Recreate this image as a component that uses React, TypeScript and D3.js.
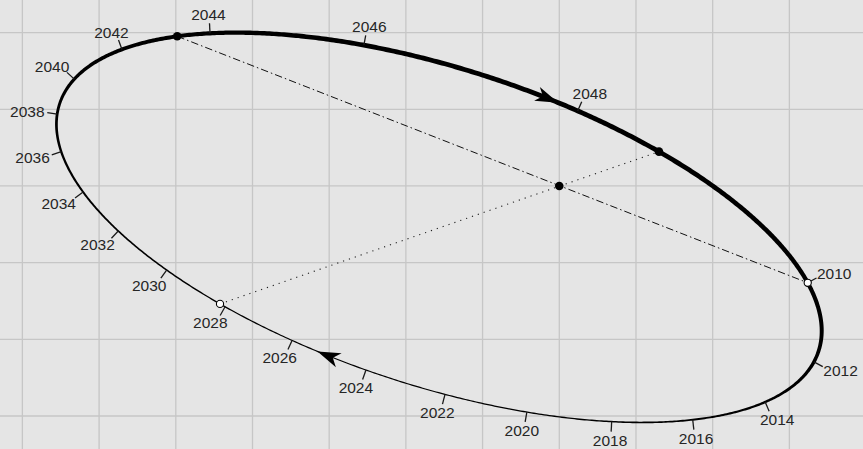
import React, { useMemo } from "react";
import * as d3 from "d3";

const WIDTH = 863;
const HEIGHT = 449;

// Grid lines (orbit-plane units, origin at the focus)
const gridXValues = [-7, -6, -5, -4, -3, -2, -1, 0, 1, 2, 3];
const gridYValues = [-3, -2, -1, 0, 1, 2];

// Orbit points, in the direction of motion, starting at 2010
const orbitLabels = [
  "2010", "", "2012", "2014", "2016", "2018", "2020", "2022", "2024", "2026",
  "2028", "2030", "2032", "2034", "2036", "", "2038", "2040", "2042", "",
  "2044", "", "2046", "", "2048", "", "", "",
];
const orbitX = [
  3.256, 3.425, 3.338, 2.695, 1.743, 0.683, -0.421, -1.49, -2.52, -3.476,
  -4.365, -5.111, -5.741, -6.223, -6.503, -6.575, -6.555, -6.327, -5.688, -4.975,
  -4.528, -4.033, -2.559, -0.995, 0.27, 1.287, 2.004, 2.995,
];
const orbitY = [
  -1.265, -1.877, -2.3, -2.823, -3.051, -3.073, -2.953, -2.712, -2.399, -2.008,
  -1.578, -1.095, -0.587, -0.078, 0.45, 0.769, 0.939, 1.395, 1.773, 1.947,
  1.969, 1.991, 1.864, 1.421, 1.004, 0.443, 0.0, -0.991,
];
const orbitWidth = [
  4.2, 4.0, 3.5, 2.4, 1.8, 1.5, 1.3, 1.2, 1.2, 1.2,
  1.3, 1.5, 1.7, 2.0, 2.4, 2.7, 2.8, 3.3, 3.8, 4.0,
  4.2, 4.4, 4.7, 4.8, 4.8, 4.8, 4.7, 4.4,
];

// Marked points: aphelion, chord end, focus, 2010 (perihelion), 2028
const markerX = [-4.975, 1.287, 0, 3.256, -4.424];
const markerY = [1.947, 0.443, 0, -1.265, -1.538];
const markerFilled = [true, true, true, false, false];
const markerOnOrbit = [true, true, false, true, true];

// Direction arrows (approximate tip locations)
const arrowX = [-0.03, -3.146];
const arrowY = [1.069, -2.151];

type Pt = [number, number];

function solve(A: number[][], b: number[]): number[] {
  const n = b.length;
  const M = A.map((r, i) => [...r, b[i]]);
  for (let c = 0; c < n; c++) {
    let p = c;
    for (let r = c + 1; r < n; r++) if (Math.abs(M[r][c]) > Math.abs(M[p][c])) p = r;
    [M[c], M[p]] = [M[p], M[c]];
    for (let r = 0; r < n; r++) {
      if (r === c) continue;
      const f = M[r][c] / M[c][c];
      for (let k = c; k <= n; k++) M[r][k] -= f * M[c][k];
    }
  }
  return M.map((r, i) => r[n] / r[i]);
}

// least-squares ellipse through the read points
function fitEllipse(xs: number[], ys: number[]) {
  const A = Array.from({ length: 5 }, () => Array(5).fill(0));
  const b = Array(5).fill(0);
  xs.forEach((x, i) => {
    const y = ys[i];
    const r = [x * x, x * y, y * y, x, y];
    for (let p = 0; p < 5; p++) {
      b[p] += r[p];
      for (let q = 0; q < 5; q++) A[p][q] += r[p] * r[q];
    }
  });
  const [a, bb, c, d, e] = solve(A, b);
  const [x0, y0] = solve([[2 * a, bb], [bb, 2 * c]], [-d, -e]);
  const F0 = a * x0 * x0 + bb * x0 * y0 + c * y0 * y0 + d * x0 + e * y0 - 1;
  const phi = 0.5 * Math.atan2(bb, a - c);
  const cs = Math.cos(phi), sn = Math.sin(phi);
  const l1 = a * cs * cs + bb * cs * sn + c * sn * sn;
  const l2 = a * sn * sn - bb * cs * sn + c * cs * cs;
  const RA = Math.sqrt(-F0 / l1), RB = Math.sqrt(-F0 / l2);
  const at = (t: number): Pt => [
    x0 + RA * Math.cos(t) * cs - RB * Math.sin(t) * sn,
    y0 + RA * Math.cos(t) * sn + RB * Math.sin(t) * cs,
  ];
  const param = (px: number, py: number) => {
    const dx = px - x0, dy = py - y0;
    const u = dx * cs + dy * sn, v = -dx * sn + dy * cs;
    return Math.atan2(v / RB, u / RA);
  };
  return { at, param, x0, y0 };
}

const FONT_SIZE = 15.5;
const TAU = Math.PI * 2;
const wrap = (a: number) => ((a % TAU) + TAU) % TAU;

export default function App() {
  const x = d3.scaleLinear().domain([-7.292, 3.96]).range([0, WIDTH]);
  const y = d3.scaleLinear().domain([-3.43, 2.425]).range([HEIGHT, 0]);

  const model = useMemo(() => {
    const E = fitEllipse(orbitX, orbitY);
    const thetas = orbitX.map((vx, i) => E.param(vx, orbitY[i]));
    // direction of travel in parameter space
    let sum = 0;
    for (let i = 0; i < thetas.length; i++) {
      let d = thetas[(i + 1) % thetas.length] - thetas[i];
      d = ((d + Math.PI) % TAU + TAU) % TAU - Math.PI;
      sum += d;
    }
    const dir = sum >= 0 ? 1 : -1;
    // travel-order coordinate s in [0, 2pi) measured from point 0
    const sOf = (t: number) => wrap(dir * (t - thetas[0]));
    const sPts = thetas.map(sOf);
    const widthAt = (s: number) => {
      const n = sPts.length;
      for (let i = 0; i < n; i++) {
        const s0 = sPts[i];
        const s1 = i + 1 < n ? sPts[i + 1] : TAU;
        if (s >= s0 && s <= s1) {
          const f = s1 > s0 ? (s - s0) / (s1 - s0) : 0;
          return orbitWidth[i] + (orbitWidth[(i + 1) % n] - orbitWidth[i]) * f;
        }
      }
      return orbitWidth[0];
    };
    const screen = (p: Pt): Pt => [x(p[0]), y(p[1])];
    const cScr = screen([E.x0, E.y0]);
    const pointAt = (s: number): Pt => screen(E.at(thetas[0] + dir * s));
    const tangentAt = (s: number): Pt => {
      const a = pointAt(s - 1e-4), b = pointAt(s + 1e-4);
      const l = Math.hypot(b[0] - a[0], b[1] - a[1]);
      return [(b[0] - a[0]) / l, (b[1] - a[1]) / l];
    };
    const normalAt = (s: number): Pt => {
      const t = tangentAt(s);
      const p = pointAt(s);
      let n: Pt = [t[1], -t[0]];
      if (n[0] * (p[0] - cScr[0]) + n[1] * (p[1] - cScr[1]) < 0) n = [-n[0], -n[1]];
      return n;
    };

    const N = 900;
    const outer: string[] = [], inner: string[] = [];
    for (let k = 0; k < N; k++) {
      const s = (k / N) * TAU;
      const p = pointAt(s), n = normalAt(s), w = widthAt(s);
      outer.push(`${(p[0] + n[0] * w / 2).toFixed(2)},${(p[1] + n[1] * w / 2).toFixed(2)}`);
      inner.push(`${(p[0] - n[0] * w / 2).toFixed(2)},${(p[1] - n[1] * w / 2).toFixed(2)}`);
    }
    const ribbon = `M${outer.join("L")}ZM${inner.join("L")}Z`;

    const tw = 4 * 0.556 * FONT_SIZE;
    const th = 0.716 * FONT_SIZE;
    const ticks = orbitLabels
      .map((lab, i) => ({ lab, i }))
      .filter((d) => d.lab !== "")
      .map(({ lab, i }) => {
        const s = sPts[i];
        const p = pointAt(s);
        const n = normalAt(s);
        const len = 10;
        const e: Pt = [p[0] + n[0] * len, p[1] + n[1] * len];
        const gap = 3;
        const cx = e[0] + n[0] * gap + (n[0] * tw) / 2;
        const cy = e[1] + n[1] * gap + (n[1] * th) / 2;
        return { lab, p, e, cx, cy: cy + th / 2 };
      });

    const arrows = arrowX.map((ax, k) => {
      const s = sOf(E.param(ax, arrowY[k]));
      const T = pointAt(s), t = tangentAt(s);
      const m: Pt = [-t[1], t[0]];
      const L = 23, W = 7.5;
      const b1: Pt = [T[0] - t[0] * L + m[0] * W, T[1] - t[1] * L + m[1] * W];
      const b2: Pt = [T[0] - t[0] * L - m[0] * W, T[1] - t[1] * L - m[1] * W];
      const nb: Pt = [T[0] - t[0] * L * 0.72, T[1] - t[1] * L * 0.72];
      return `M${T[0]},${T[1]}L${b1[0]},${b1[1]}L${nb[0]},${nb[1]}L${b2[0]},${b2[1]}Z`;
    });

    const markers = markerX.map((mxv, i) => {
      if (!markerOnOrbit[i]) return screen([mxv, markerY[i]]);
      return pointAt(sOf(E.param(mxv, markerY[i])));
    });

    return { ribbon, ticks, arrows, markers };
  }, []);

  const mk = model.markers;

  return (
    <>
      <style>{"body{margin:0;}"}</style>
      <svg width={WIDTH} height={HEIGHT} style={{ display: "block" }}
        fontFamily="'Liberation Sans', Arial, Helvetica, sans-serif">
        <rect x={0} y={0} width={WIDTH} height={HEIGHT} fill="#e5e5e5" />
        <g stroke="#c6c6c6" strokeWidth={1.3}>
          {gridXValues.map((v) => (
            <line key={"gx" + v} x1={x(v)} x2={x(v)} y1={0} y2={HEIGHT} />
          ))}
          {gridYValues.map((v) => (
            <line key={"gy" + v} x1={0} x2={WIDTH} y1={y(v)} y2={y(v)} />
          ))}
        </g>
        {/* apsidal line */}
        <line x1={mk[0][0]} y1={mk[0][1]} x2={mk[3][0]} y2={mk[3][1]}
          stroke="#111" strokeWidth={1} strokeDasharray="7.5 3 1.5 3" />
        {/* focal chord */}
        <line x1={mk[4][0]} y1={mk[4][1]} x2={mk[1][0]} y2={mk[1][1]}
          stroke="#222" strokeWidth={1.1} strokeDasharray="1.2 5" />
        {/* orbit */}
        <path d={model.ribbon} fill="#000" fillRule="evenodd" />
        {/* ticks */}
        <g stroke="#1a1a1a" strokeWidth={1.3}>
          {model.ticks.map((t) => (
            <line key={"t" + t.lab} x1={t.p[0]} y1={t.p[1]} x2={t.e[0]} y2={t.e[1]} />
          ))}
        </g>
        {/* arrows */}
        {model.arrows.map((d, i) => (
          <path key={"a" + i} d={d} fill="#000" />
        ))}
        {/* markers */}
        {mk.map((p, i) => (
          <circle key={"m" + i} cx={p[0]} cy={p[1]} r={markerFilled[i] ? 4.3 : 3.6}
            fill={markerFilled[i] ? "#000" : "#fff"} stroke="#000"
            strokeWidth={markerFilled[i] ? 0 : 1.1} />
        ))}
        {/* labels */}
        <g fontSize={FONT_SIZE} fill="#262626" textAnchor="middle">
          {model.ticks.map((t) => (
            <text key={"l" + t.lab} x={t.cx} y={t.cy}>{t.lab}</text>
          ))}
        </g>
      </svg>
    </>
  );
}
